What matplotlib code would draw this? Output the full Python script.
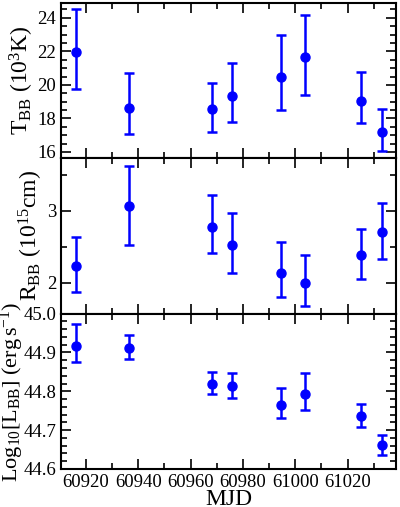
import matplotlib
matplotlib.use("Agg")
import matplotlib.pyplot as plt
from matplotlib.ticker import MultipleLocator

plt.rcParams["font.family"] = "serif"
plt.rcParams["font.serif"] = ["Liberation Serif", "DejaVu Serif"]
plt.rcParams["mathtext.fontset"] = "custom"
plt.rcParams["mathtext.rm"] = "Liberation Serif"
plt.rcParams["mathtext.it"] = "Liberation Serif:italic"

mjd = [60916.4, 60936.4, 60968.1, 60975.8, 60994.7, 61003.9, 61025.3, 61033.2]

t_bb = [21.95, 18.62, 18.55, 19.36, 20.46, 21.64, 19.06, 17.20]
t_hi = [24.54, 20.72, 20.10, 21.32, 22.96, 24.14, 20.76, 18.58]
t_lo = [19.76, 17.08, 17.18, 17.76, 18.52, 19.40, 17.70, 16.04]

r_bb = [2.23, 3.065, 2.78, 2.52, 2.14, 1.995, 2.39, 2.70]
r_hi = [2.63, 3.62, 3.22, 2.97, 2.56, 2.38, 2.75, 3.11]
r_lo = [1.87, 2.53, 2.41, 2.14, 1.80, 1.67, 2.05, 2.33]

l_bb = [44.918, 44.912, 44.820, 44.813, 44.764, 44.794, 44.736, 44.662]
l_hi = [44.974, 44.945, 44.849, 44.848, 44.808, 44.846, 44.768, 44.688]
l_lo = [44.875, 44.883, 44.792, 44.783, 44.731, 44.753, 44.708, 44.636]

panels = [
    (t_bb, t_lo, t_hi, r"T$_{\rm BB}$ (10$^{3}$K)", (15.62, 24.88), 2, 0.5, "%d", 1, 17),
    (r_bb, r_lo, r_hi, r"R$_{\rm BB}$ (10$^{15}$cm)", (1.57, 3.73), 1, 0.5, "%d", 1, 17),
    (l_bb, l_lo, l_hi, r"Log$_{10}$[L$_{\rm BB}$] (erg$\,$s$^{-1}$)", (44.6, 45.0), 0.1, 0.02, "%.1f", -2, 16),
]

fig, axes = plt.subplots(3, 1, figsize=(4.0, 5.07), dpi=100, sharex=True)
fig.subplots_adjust(left=0.1525, right=0.99, top=0.994, bottom=0.075, hspace=0)

for ax, (val, lo, hi, label, ylim, major, minor, fmt, pad, fs) in zip(axes, panels):
    err = [[v - a for v, a in zip(val, lo)], [b - v for v, b in zip(val, hi)]]
    ax.errorbar(mjd, val, yerr=err, fmt="o", color="#0000ff", ms=6.5,
                elinewidth=1.8, capsize=3.5, capthick=1.8)
    ax.set_ylim(*ylim)
    ax.set_ylabel(label, fontsize=fs, labelpad=pad)
    ax.yaxis.set_major_locator(MultipleLocator(major))
    ax.yaxis.set_minor_locator(MultipleLocator(minor))
    ax.yaxis.set_major_formatter(plt.FormatStrFormatter(fmt))
    ax.xaxis.set_major_locator(MultipleLocator(20))
    ax.xaxis.set_minor_locator(MultipleLocator(10))
    ax.tick_params(which="both", direction="in", top=True, right=True,
                   labelsize=13.5, width=1.2)
    ax.tick_params(which="major", length=7)
    ax.tick_params(which="minor", length=4)
    for s in ax.spines.values():
        s.set_linewidth(1.5)

axes[-1].set_xlim(60910.5, 61038.5)
axes[-1].set_xlabel("MJD", fontsize=17, labelpad=-1.5)

plt.savefig("out.png", dpi=100)
plt.close()
